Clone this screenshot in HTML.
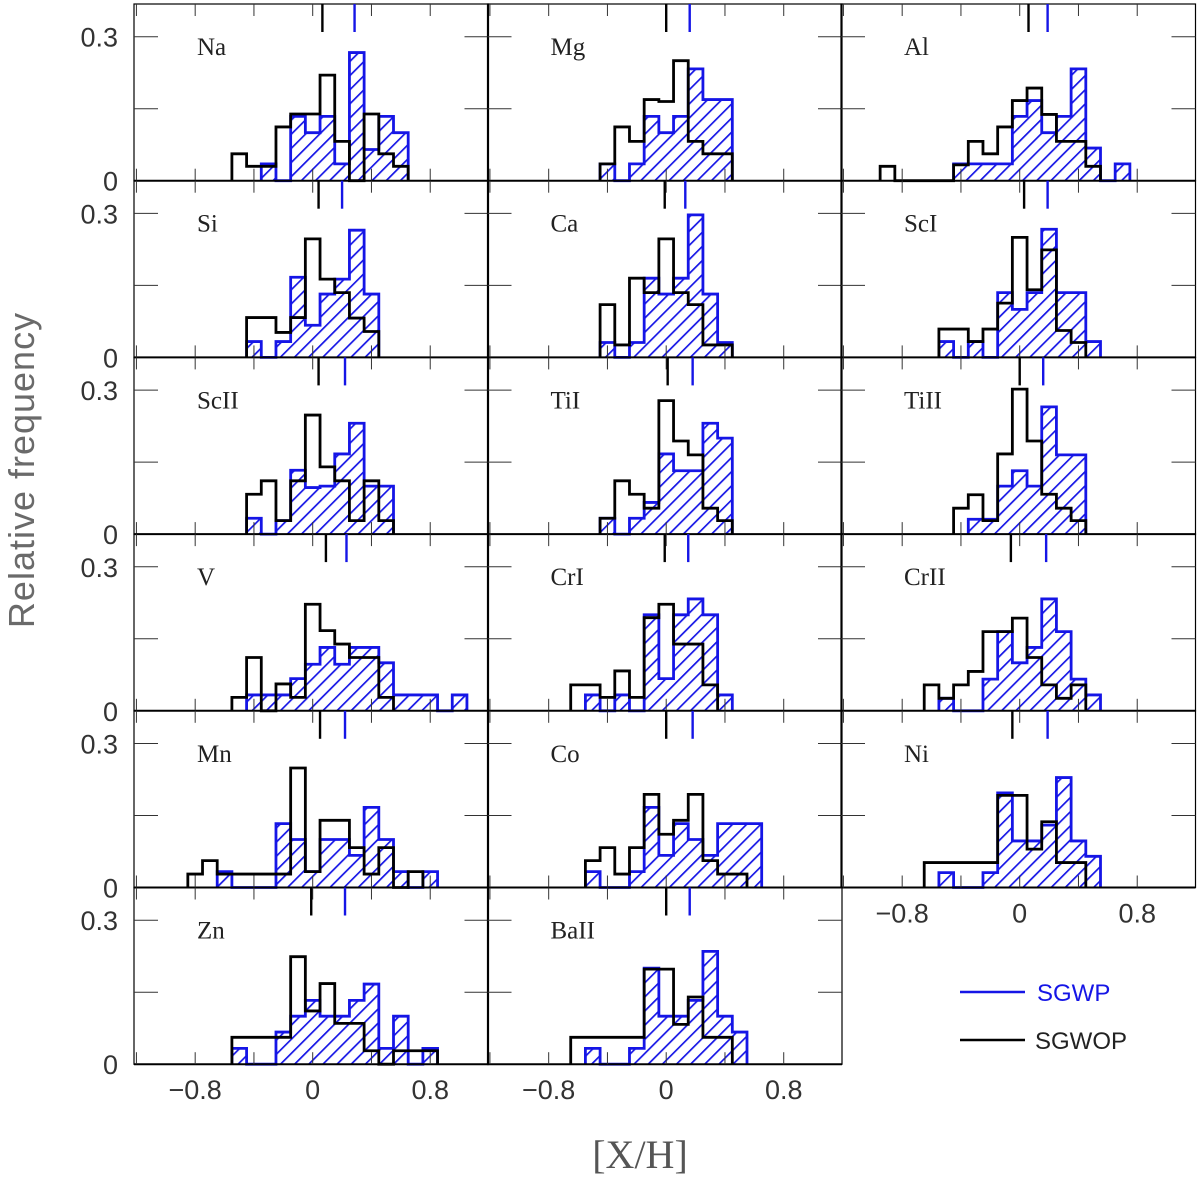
<!DOCTYPE html>
<html><head><meta charset="utf-8"><title>Abundance histograms</title>
<style>
html,body{margin:0;padding:0;background:#fff;}
svg{display:block;font-family:"Liberation Sans",sans-serif;}
</style></head>
<body>
<svg id="chart" width="1200" height="1179" viewBox="0 0 1200 1179" xmlns="http://www.w3.org/2000/svg">
<defs>
<pattern id="hatch" patternUnits="userSpaceOnUse" width="10" height="10" patternTransform="rotate(45)">
<line x1="0" y1="0" x2="0" y2="10" stroke="#1515e6" stroke-width="3.4"/>
</pattern>
</defs>
<g id="panels"></g>
<text x="0" y="0" transform="translate(34,470) rotate(-90)" text-anchor="middle" font-size="36" fill="#6a6a6a" letter-spacing="1">Relative frequency</text>
<text x="640" y="1168" text-anchor="middle" font-size="40" fill="#555" font-family="Liberation Serif, serif">[X/H]</text>
<g>
<line x1="960" y1="992" x2="1025" y2="992" stroke="#1515e6" stroke-width="2.5"/>
<text x="1037" y="1001" font-size="24" fill="#1515e6">SGWP</text>
<line x1="960" y1="1040" x2="1025" y2="1040" stroke="#000" stroke-width="2.5"/>
<text x="1035" y="1049" font-size="24" fill="#222">SGWOP</text>
</g>
</svg>
<script>
// ---- data (bin centres every 0.1 dex; start = centre of first bin) ----
const elements = ["Na","Mg","Al","Si","Ca","ScI","ScII","TiI","TiII","V","CrI","CrII","Mn","Co","Ni","Zn","BaII"];
const sgwopStart = [-0.5,-0.4,-0.9,-0.4,-0.4,-0.5,-0.4,-0.4,-0.4,-0.5,-0.6,-0.6,-0.8,-0.5,-0.6,-0.5,-0.6];
const sgwpStart  = [-0.3,-0.4,-0.4,-0.4,-0.4,-0.5,-0.4,-0.4,-0.3,-0.4,-0.5,-0.5,-0.6,-0.5,-0.5,-0.5,-0.5];
const sgwopNa = [0.056,0.03,0.03,0.112,0.139,0.139,0.22,0.082,0,0.139,0.056,0.03];
const sgwpNa  = [0.035,0,0.134,0.1,0.134,0.035,0.267,0.065,0.134,0.1];
const sgwopMg = [0.035,0.112,0.082,0.169,0.165,0.25,0.082,0.056,0.056];
const sgwpMg  = [0.035,0,0.035,0.134,0.1,0.134,0.233,0.169,0.169];
const sgwopAl = [0.03,0,0,0,0,0.033,0.082,0.056,0.112,0.167,0.193,0.138,0.082,0.082,0.03];
const sgwpAl  = [0.035,0.035,0.035,0.035,0.134,0.167,0.1,0.134,0.233,0.068,0,0.035];
const sgwopSi = [0.083,0.083,0.052,0.083,0.247,0.163,0.135,0.082,0.054];
const sgwpSi  = [0.033,0,0.033,0.167,0.067,0.132,0.163,0.265,0.132];
const sgwopCa = [0.11,0.026,0.165,0.135,0.247,0.135,0.11,0.026,0.026];
const sgwpCa  = [0.031,0,0.031,0.165,0.132,0.165,0.297,0.132,0.031];
const sgwopScI = [0.059,0.059,0.033,0.059,0.113,0.25,0.141,0.224,0.056,0.031];
const sgwpScI  = [0.033,0,0.033,0,0.135,0.1,0.135,0.267,0.135,0.135,0.033];
const sgwopScII = [0.083,0.111,0.028,0.111,0.248,0.14,0.111,0.028,0.111,0.028];
const sgwpScII  = [0.033,0,0.028,0.133,0.097,0.1,0.167,0.231,0.1,0.1];
const sgwopTiI = [0.033,0.111,0.083,0.054,0.278,0.194,0.165,0.054,0.028];
const sgwpTiI  = [0.033,0,0.033,0.066,0.167,0.132,0.132,0.231,0.2];
const sgwopTiII = [0.054,0.082,0.028,0.167,0.302,0.194,0.083,0.054,0.028];
const sgwpTiII  = [0.031,0.031,0.1,0.132,0.1,0.265,0.165,0.165];
const sgwopV = [0.028,0.111,0,0.056,0.028,0.222,0.167,0.139,0.111,0.111,0.028];
const sgwpV  = [0.033,0.033,0.033,0.067,0.097,0.132,0.097,0.132,0.132,0.1,0.033,0.033,0.033,0,0.033];
const sgwopCrI = [0.054,0.054,0.028,0.083,0.028,0.194,0.222,0.139,0.139,0.054];
const sgwpCrI  = [0.033,0,0.033,0,0.2,0.067,0.2,0.233,0.2,0.033];
const sgwopCrII = [0.054,0.026,0.054,0.082,0.165,0.165,0.193,0.111,0.054,0.026,0.054];
const sgwpCrII  = [0.026,0,0,0.066,0.165,0.1,0.132,0.233,0.165,0.066,0.033];
const sgwopMn = [0.028,0.056,0.028,0.028,0.028,0.028,0.028,0.249,0.033,0.14,0.14,0.083,0.028,0.083,0,0.033];
const sgwpMn  = [0.033,0,0,0,0.133,0.1,0.033,0.1,0.1,0.067,0.167,0.1,0.033,0,0.033];
const sgwopCo = [0.056,0.083,0.028,0.083,0.194,0.111,0.14,0.194,0.056,0.028,0.028];
const sgwpCo  = [0.033,0,0,0.033,0.167,0.067,0.133,0.1,0.067,0.133,0.133,0.133];
const sgwopNi = [0.052,0.052,0.052,0.052,0.052,0.192,0.192,0.08,0.137,0.052,0.052];
const sgwpNi  = [0.031,0,0,0.031,0.197,0.097,0.097,0.13,0.229,0.097,0.065];
const sgwopZn = [0.056,0.056,0.056,0.056,0.224,0.111,0.168,0.085,0.085,0.028,0,0.028,0.028,0.028];
const sgwpZn  = [0.033,0,0,0.067,0.1,0.133,0.1,0.1,0.133,0.167,0.033,0.1,0,0.033];
const sgwopBaII = [0.056,0.056,0.056,0.056,0.056,0.198,0.198,0.083,0.14,0.056,0.056];
const sgwpBaII  = [0.033,0,0,0.033,0.2,0.1,0.1,0.133,0.235,0.1,0.067];
const sgwopMean = [0.066,0.0,0.06,0.04,-0.01,0.03,0.04,0.01,0.0,0.09,-0.01,-0.06,0.05,0.0,-0.05,-0.01,0.0];
const sgwpMean  = [0.285,0.16,0.19,0.2,0.13,0.19,0.22,0.18,0.16,0.23,0.15,0.18,0.22,0.18,0.19,0.22,0.16];
const yTicks = [0, 0.15, 0.3];
const yTickLabels = ["0", "", "0.3"];
const xTicks = [-1.2, -0.8, -0.4, 0, 0.4, 0.8, 1.2];
const xTickLabels = ["\u22120.8", "0", "0.8"];
const xLabelValues = [-0.8, 0, 0.8];

const sgwopSeries = [sgwopNa,sgwopMg,sgwopAl,sgwopSi,sgwopCa,sgwopScI,sgwopScII,sgwopTiI,sgwopTiII,sgwopV,sgwopCrI,sgwopCrII,sgwopMn,sgwopCo,sgwopNi,sgwopZn,sgwopBaII];
const sgwpSeries = [sgwpNa,sgwpMg,sgwpAl,sgwpSi,sgwpCa,sgwpScI,sgwpScII,sgwpTiI,sgwpTiII,sgwpV,sgwpCrI,sgwpCrII,sgwpMn,sgwpCo,sgwpNi,sgwpZn,sgwpBaII];

const NS = "http://www.w3.org/2000/svg";
const BLUE = "#1515e6";
const colLeft = [134, 487.5, 841];
const colW = 354.5;
const rowTop0 = 4, rowH = 176.7;
const zeroOff = 178.7, xScale = 146.9, yScale = 480;
const binW = 0.1;
const root = document.getElementById("panels");

function mk(tag, attrs, parent) {
  const e = document.createElementNS(NS, tag);
  for (const k in attrs) e.setAttribute(k, attrs[k]);
  parent.appendChild(e);
  return e;
}
function stepPath(vals, start, X, Y) {
  const y0 = Y(0);
  let d = "M" + X(start - binW/2).toFixed(2) + "," + y0.toFixed(2);
  for (let i = 0; i < vals.length; i++) {
    const c = start + i * binW;
    const xl = X(c - binW/2), xr = X(c + binW/2), y = Y(vals[i]);
    d += " L" + xl.toFixed(2) + "," + y.toFixed(2) + " L" + xr.toFixed(2) + "," + y.toFixed(2);
  }
  d += " L" + X(start + (vals.length - 1) * binW + binW/2).toFixed(2) + "," + y0.toFixed(2);
  return d;
}

elements.forEach((el, i) => {
  const col = i % 3, row = Math.floor(i / 3);
  const left = colLeft[col], top = rowTop0 + row * rowH, bottom = top + rowH, right = left + colW;
  const X = v => left + zeroOff + v * xScale;
  const Y = v => bottom - v * yScale;
  const g = mk("g", {}, root);
  
  

  const bp = stepPath(sgwpSeries[i], sgwpStart[i], X, Y);
  const fill = mk("path", {d: bp + " Z", fill: "url(#hatch)", stroke: "none"}, g);
  
  
  const bl = mk("path", {d: bp, fill: "none", stroke: BLUE, "stroke-width": 2.8, "stroke-linejoin": "miter"}, g);
  
  

  const base = mk("line", {x1: left, y1: bottom, x2: right, y2: bottom, stroke: "#000", "stroke-width": 2}, g);
  
  

  const kp = stepPath(sgwopSeries[i], sgwopStart[i], X, Y);
  const kl = mk("path", {d: kp, fill: "none", stroke: "#000", "stroke-width": 2.8}, g);
  
  

  const fr = mk("rect", {x: left, y: top, width: colW, height: rowH, fill: "none", stroke: "#000", "stroke-width": 1.2}, g);
  
  

  xTicks.forEach(t => {
    const x = X(t);
    if (x <= left + 2 || x >= right - 2) return;
    const a = mk("line", {x1: x, y1: top, x2: x, y2: top + 12, stroke: "#333", "stroke-width": 1}, g);
    
    
    const b = mk("line", {x1: x, y1: bottom, x2: x, y2: bottom - 12, stroke: "#333", "stroke-width": 1}, g);
    
    
  });
  yTicks.forEach(t => {
    if (t === 0) return;
    const y = Y(t);
    const a = mk("line", {x1: left, y1: y, x2: left + 24, y2: y, stroke: "#333", "stroke-width": 1}, g);
    
    
    const b = mk("line", {x1: right, y1: y, x2: right - 24, y2: y, stroke: "#333", "stroke-width": 1}, g);
    
    
  });

  const mk1 = mk("line", {x1: X(sgwopMean[i]), y1: top, x2: X(sgwopMean[i]), y2: top + 28, stroke: "#000", "stroke-width": 2.4}, g);
  
  
  const mk2 = mk("line", {x1: X(sgwpMean[i]), y1: top, x2: X(sgwpMean[i]), y2: top + 28, stroke: BLUE, "stroke-width": 2.4}, g);
  
  

  const lab = mk("text", {x: left + 63, y: top + 51, "font-size": 25, fill: "#222", "font-family": "Liberation Serif, serif"}, g);
  lab.textContent = el;
  
  

  if (col === 0) {
    yTicks.forEach((t, k) => {
      if (!yTickLabels[k]) return;
      const tx = mk("text", {x: 118, y: Y(t) + 10, "text-anchor": "end", "font-size": 27, fill: "#333"}, root);
      tx.textContent = yTickLabels[k];
      
      
    });
  }
  const lowest = (col === 2) ? (row === 4) : (row === 5);
  if (lowest) {
    xLabelValues.forEach((v, k) => {
      const tx = mk("text", {x: X(v), y: bottom + 35, "text-anchor": "middle", "font-size": 27, fill: "#333"}, root);
      tx.textContent = xTickLabels[k];
      
      
    });
  }
});
</script>
</body></html>
